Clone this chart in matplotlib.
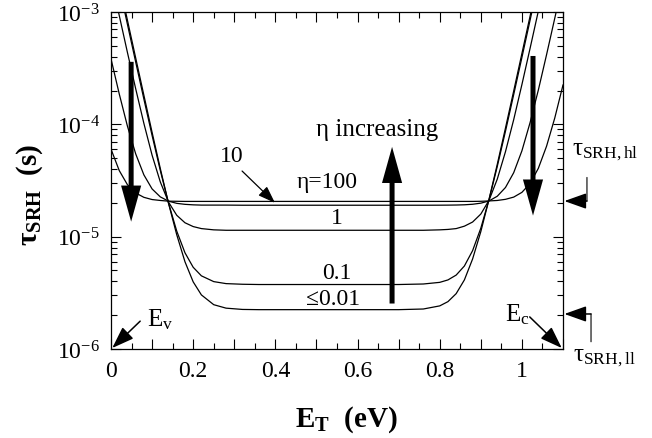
import numpy as np
import matplotlib
matplotlib.use("Agg")
import matplotlib.pyplot as plt
from matplotlib.ticker import FixedLocator, NullFormatter
from matplotlib.transforms import blended_transform_factory

plt.rcParams["font.family"] = ["Liberation Serif", "DejaVu Serif"]
plt.rcParams["mathtext.fontset"] = "custom"
plt.rcParams["mathtext.rm"] = "Liberation Serif"
plt.rcParams["mathtext.it"] = "Liberation Serif:italic"
plt.rcParams["mathtext.bf"] = "Liberation Serif:bold"

# Trap level measured from the valence band edge (eV)
trap_energy = [0.00, 0.02, 0.04, 0.06, 0.08, 0.10, 0.12, 0.14, 0.16, 0.18,
               0.20, 0.22, 0.25, 0.28, 0.32, 0.36, 0.50, 0.70, 0.76, 0.80,
               0.82, 0.84, 0.86, 0.88, 0.90, 0.92, 0.94, 0.96, 0.98, 1.00,
               1.02, 1.04, 1.06, 1.08, 1.10]

# SRH lifetime in microseconds for each injection level eta
tau_eta_001 = [3963, 1828, 844, 391, 181.5, 84.8, 40.4, 19.8, 10.4, 5.98,
               3.96, 3.03, 2.48, 2.31, 2.25, 2.24, 2.24, 2.24, 2.27, 2.42,
               2.64, 3.11, 4.12, 6.33, 11.1, 21.5, 44.0, 92.7, 198, 427,
               923, 2000, 4330, 9390, 20350]
tau_eta_01 = [3640, 1680, 777, 360, 168, 79.6, 38.8, 19.9, 11.2, 7.19,
              5.34, 4.48, 3.98, 3.82, 3.77, 3.75, 3.75, 3.75, 3.79, 3.92,
              4.12, 4.55, 5.48, 7.51, 11.9, 21.4, 42.1, 86.8, 184, 394,
              850, 1840, 3980, 8620, 18690]
tau_eta_1 = [2011, 933, 436, 208, 102, 53.1, 30.7, 20.3, 15.5, 13.3,
             12.3, 11.8, 11.5, 11.4, 11.4, 11.4, 11.4, 11.4, 11.4, 11.5,
             11.6, 11.8, 12.4, 13.5, 15.9, 21.1, 32.5, 57.1, 110, 226,
             477, 1020, 2200, 4750, 10290]
tau_eta_10 = [383, 187, 96.3, 54.7, 35.5, 26.6, 22.6, 20.7, 19.8, 19.4,
              19.2, 19.1, 19.1, 19.1, 19.05, 19.05, 19.05, 19.05, 19.05, 19.07,
              19.09, 19.13, 19.22, 19.43, 19.87, 20.8, 22.9, 27.4, 37.1, 58.1,
              104, 202, 417, 881, 1890]
tau_eta_100 = [60.2, 38.8, 29.0, 24.5, 22.4, 21.4, 21.0, 20.7, 20.65, 20.6,
               20.6, 20.6, 20.6, 20.6, 20.6, 20.6, 20.6, 20.6, 20.6, 20.6,
               20.6, 20.6, 20.6, 20.6, 20.65, 20.8, 21.0, 21.5, 22.5, 24.8,
               29.8, 40.6, 63.9, 114, 224]

# Limiting lifetimes (s): high-level and low-level injection
tau_hl = 20.75e-6
tau_ll = 2.05e-6

x_ticks = [0.0, 0.1, 0.2, 0.3, 0.4, 0.5, 0.6, 0.7, 0.8, 0.9, 1.0, 1.1]
x_tick_labels = ["0", "", "0.2", "", "0.4", "", "0.6", "", "0.8", "", "1", ""]
y_ticks = [1e-6, 1e-5, 1e-4, 1e-3]
y_tick_labels = [r"$10^{-6}$", r"$10^{-5}$", r"$10^{-4}$", r"$10^{-3}$"]

fig = plt.figure(figsize=(6.52, 4.39), dpi=100)
ax = fig.add_axes([111 / 652, 1 - 350 / 439, 452 / 652, 337 / 439])

E = np.array(trap_energy)
for tau in (tau_eta_001, tau_eta_01, tau_eta_1, tau_eta_10, tau_eta_100):
    ax.plot(E, np.array(tau) * 1e-6, color="black", lw=0.9)

ax.set_yscale("log")
ax.set_xlim(0, 1.1)
ax.set_ylim(1e-6, 1e-3)

ax.xaxis.set_major_locator(FixedLocator(x_ticks))
ax.set_xticklabels(x_tick_labels)
ax.xaxis.set_minor_locator(FixedLocator(np.arange(0.05, 1.1, 0.1)))
ax.yaxis.set_major_locator(FixedLocator(y_ticks))
ax.set_yticklabels(y_tick_labels)
minor_y = [m * 10.0 ** d for d in (-6, -5, -4) for m in range(2, 10)]
ax.yaxis.set_minor_locator(FixedLocator(minor_y))
ax.yaxis.set_minor_formatter(NullFormatter())

ax.tick_params(which="both", direction="in", top=True, right=True,
               labelsize=17, pad=8, width=0.8)
ax.tick_params(which="major", length=7)
ax.tick_params(which="minor", length=4)
for sp in ax.spines.values():
    sp.set_linewidth(0.9)

fig.text(346 / 652, 1 - 420 / 439, r"$\mathbf{E_T}$  (eV)", fontsize=21,
         fontweight="bold", ha="center", va="center")
fig.text(30 / 652, 1 - 195 / 439, r"$\mathbf{\tau_{SRH}}$  (s)", fontsize=21,
         fontweight="bold", ha="center", va="center", rotation=90)

# Curve labels
ax.text(0.526, 3.13e-5, "η=100", fontsize=17, ha="center", va="center")
ax.text(0.294, 5.3e-5, "10", fontsize=17, ha="center", va="center")
ax.annotate("", xy=(0.399, 2.0e-5), xytext=(0.319, 3.84e-5),
            arrowprops=dict(arrowstyle="-|>,head_length=0.7,head_width=0.25",
                            color="black", lw=0.9, mutation_scale=15,
                            shrinkA=0, shrinkB=0))
ax.text(0.55, 1.47e-5, "1", fontsize=17, ha="center", va="center")
ax.text(0.55, 4.84e-6, "0.1", fontsize=17, ha="center", va="center")
ax.text(0.54, 2.79e-6, "≤0.01", fontsize=17, ha="center", va="center")

# Thick trend arrows
big = dict(arrowstyle="simple,head_length=2.6,head_width=1.45,tail_width=0.36",
           fc="black", ec="black", lw=0, mutation_scale=10,
           shrinkA=0, shrinkB=0)
ax.annotate("", xy=(0.049, 1.36e-5), xytext=(0.049, 3.6e-4), arrowprops=big)
ax.annotate("", xy=(1.027, 1.54e-5), xytext=(1.027, 4.06e-4), arrowprops=big)
ax.annotate("", xy=(0.684, 6.3e-5), xytext=(0.684, 2.54e-6), arrowprops=big)
ax.text(0.647, 9.1e-5, "η increasing", fontsize=18, ha="center", va="center")

# Band edges
thin = dict(arrowstyle="-|>,head_length=0.9,head_width=0.32", color="black",
            lw=1.1, mutation_scale=15, shrinkA=0, shrinkB=0)
ax.annotate("", xy=(0.003, 1.02e-6), xytext=(0.071, 1.77e-6), arrowprops=thin,
            annotation_clip=False)
ax.text(0.088, 1.85e-6, r"E$_{\rm v}$", fontsize=18, ha="left", va="center")
ax.annotate("", xy=(1.097, 1.02e-6), xytext=(1.019, 1.93e-6), arrowprops=thin,
            annotation_clip=False)
ax.text(0.959, 2.05e-6, r"E$_{\rm c}$", fontsize=18, ha="left", va="center")

# Limiting lifetime markers outside the right axis
mixed = blended_transform_factory(ax.transAxes, ax.transData)
ax.annotate("", xy=(1.003, tau_hl), xytext=(1.053, tau_hl),
            xycoords=mixed, textcoords=mixed, arrowprops=thin,
            annotation_clip=False)
ax.annotate("", xy=(1.053, tau_hl), xytext=(0, 17), xycoords=mixed,
            textcoords="offset points",
            arrowprops=dict(arrowstyle="-", color="black", lw=0.8,
                            shrinkA=0, shrinkB=0), annotation_clip=False)
ax.text(1.02, 5.8e-5, r"$\mathrm{\tau_{SRH,hl}}$", fontsize=18, transform=mixed,
        ha="left", va="center", clip_on=False)

ax.annotate("", xy=(1.003, tau_ll), xytext=(1.062, tau_ll),
            xycoords=mixed, textcoords=mixed, arrowprops=thin,
            annotation_clip=False)
ax.annotate("", xy=(1.062, tau_ll), xytext=(0, -20), xycoords=mixed,
            textcoords="offset points",
            arrowprops=dict(arrowstyle="-", color="black", lw=0.8,
                            shrinkA=0, shrinkB=0), annotation_clip=False)
ax.text(1.022, -0.025, r"$\mathrm{\tau_{SRH,ll}}$", fontsize=18,
        transform=ax.transAxes, ha="left", va="center", clip_on=False)

fig.savefig("out.png", dpi=100)
